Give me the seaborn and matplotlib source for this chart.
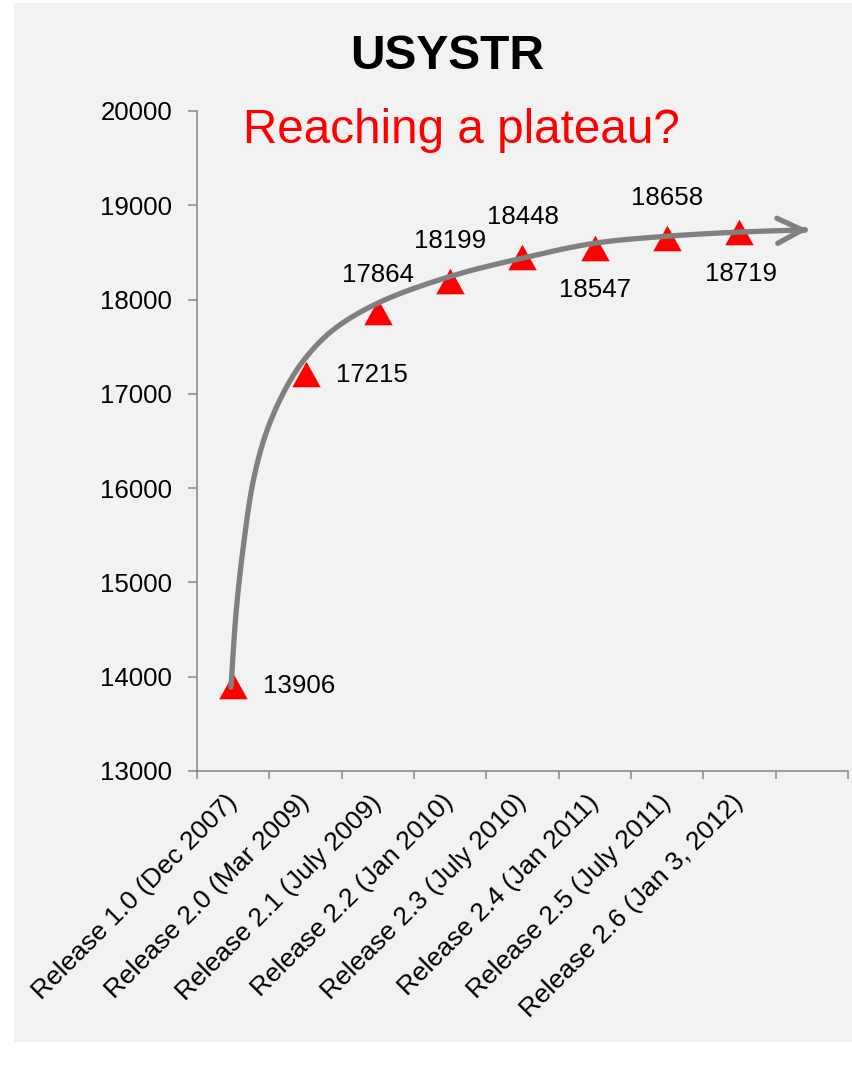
import numpy as np
import matplotlib
matplotlib.use("Agg")
import matplotlib.pyplot as plt
from matplotlib.patches import Rectangle, FancyArrowPatch
from matplotlib.path import Path
import seaborn as sns
import pandas as pd

# ---- data -------------------------------------------------------------
releases = [
    "Release 1.0 (Dec 2007)",
    "Release 2.0 (Mar 2009)",
    "Release 2.1 (July 2009)",
    "Release 2.2 (Jan 2010)",
    "Release 2.3 (July 2010)",
    "Release 2.4 (Jan 2011)",
    "Release 2.5 (July 2011)",
    "Release 2.6 (Jan 3, 2012)",
]
counts = [13906, 17215, 17864, 18199, 18448, 18547, 18658, 18719]
y_ticks = [13000, 14000, 15000, 16000, 17000, 18000, 19000, 20000]

# hand-drawn trend arrow (annotation), anchor points in data units
arrow_x = [-0.03, 0.04, 0.14, 0.28, 0.47, 0.74, 1.0, 1.38, 2.0, 3.0, 4.0, 5.0, 6.0, 7.0, 7.95]
arrow_y = [13890, 14680, 15379, 16086, 16617, 17076, 17380, 17677, 17963,
           18245, 18440, 18598, 18672, 18716, 18740]

# label placement (offsets in points) and alignment
label_offsets = [(21.6, 0), (21.6, -1), (0, 26.6), (0, 28.4), (0, 28.8),
                 (0, -29.9), (0, 28.4), (1.4, -30.2)]
label_ha = ["left", "left", "center", "center", "center", "center", "center", "center"]

# ---- style ------------------------------------------------------------
sns.set_theme(style="ticks")
plt.rcParams["font.family"] = ["Liberation Sans", "DejaVu Sans"]

W, H = 852, 1071
fig = plt.figure(figsize=(W / 100, H / 100), dpi=100, facecolor="white")

# light grey chart area
fig.patches.append(Rectangle((14 / W, 29 / H), 1 - 14 / W, (1042 - 3) / H,
                             transform=fig.transFigure, facecolor="#f2f2f2",
                             edgecolor="none", zorder=-5))

ax = fig.add_axes([197 / W, 1 - 771 / H, (848 - 197) / W, (771 - 111) / H])
ax.set_facecolor("none")

df = pd.DataFrame({"pos": np.arange(len(releases)), "count": counts})

tri = Path([(-1.0, -0.9), (1.0, -0.9), (0.0, 0.9), (-1.0, -0.9)],
           [Path.MOVETO, Path.LINETO, Path.LINETO, Path.CLOSEPOLY])
sns.scatterplot(data=df, x="pos", y="count", marker=tri, s=420, color="#ff0000",
                linewidth=0, ax=ax, zorder=3)

# value labels
for i, v in enumerate(counts):
    ax.annotate(f"{v}", xy=(i, v), xytext=label_offsets[i], textcoords="offset points",
                ha=label_ha[i], va="center", fontsize=18.6, color="black", zorder=5)

# axes limits / ticks
n_slots = len(releases) + 1
ax.set_xlim(-0.5, n_slots - 0.5)
ax.set_ylim(y_ticks[0], y_ticks[-1])
ax.set_yticks(y_ticks)
ax.set_yticklabels([str(t) for t in y_ticks], fontsize=18.6, color="black")
ax.set_xticks(np.arange(-0.5, n_slots, 1.0))
ax.set_xticklabels([])
ax.set_xticks(np.arange(len(releases)), minor=True)
ax.set_xticklabels(releases, minor=True, fontsize=19, color="black")
for lab in ax.get_xticklabels(minor=True):
    lab.set_rotation(45)
    lab.set_ha("right")
    lab.set_va("center")
    lab.set_rotation_mode("anchor")
ax.set_xlabel("")
ax.set_ylabel("")

spine_c = "#868686"
for s in ["top", "right"]:
    ax.spines[s].set_visible(False)
for s in ["left", "bottom"]:
    ax.spines[s].set_color(spine_c)
    ax.spines[s].set_linewidth(1.1)
ax.tick_params(axis="y", which="major", length=6.5, width=1.1, color=spine_c, pad=11.5)
ax.tick_params(axis="x", which="major", length=6.0, width=1.1, color=spine_c)
ax.tick_params(axis="x", which="minor", length=0, pad=20)

# ---- smooth trend arrow (centripetal Catmull-Rom in screen-like units) --
fig.canvas.draw()
sx = ax.bbox.width / (ax.get_xlim()[1] - ax.get_xlim()[0])
sy = ax.bbox.height / (ax.get_ylim()[1] - ax.get_ylim()[0])
P = np.column_stack([np.array(arrow_x) * sx, np.array(arrow_y) * sy])
P = np.vstack([2 * P[0] - P[1], P, 2 * P[-1] - P[-2]])
pts = []
for k in range(1, len(P) - 2):
    p0, p1, p2, p3 = P[k - 1], P[k], P[k + 1], P[k + 2]
    t0 = 0.0
    t1 = t0 + np.linalg.norm(p1 - p0) ** 0.5
    t2 = t1 + np.linalg.norm(p2 - p1) ** 0.5
    t3 = t2 + np.linalg.norm(p3 - p2) ** 0.5
    for t in np.linspace(t1, t2, 25, endpoint=(k == len(P) - 3)):
        a1 = (t1 - t) / (t1 - t0) * p0 + (t - t0) / (t1 - t0) * p1
        a2 = (t2 - t) / (t2 - t1) * p1 + (t - t1) / (t2 - t1) * p2
        a3 = (t3 - t) / (t3 - t2) * p2 + (t - t2) / (t3 - t2) * p3
        b1 = (t2 - t) / (t2 - t0) * a1 + (t - t0) / (t2 - t0) * a2
        b2 = (t3 - t) / (t3 - t1) * a2 + (t - t1) / (t3 - t1) * a3
        pts.append((t2 - t) / (t2 - t1) * b1 + (t - t1) / (t2 - t1) * b2)
pts = np.array(pts)
curve = np.column_stack([pts[:, 0] / sx, pts[:, 1] / sy])
codes = [Path.MOVETO] + [Path.LINETO] * (len(curve) - 1)
arrow = FancyArrowPatch(path=Path(curve, codes), transform=ax.transData,
                        arrowstyle="->,head_length=0.9,head_width=0.45",
                        mutation_scale=20, color="#808080", linewidth=3.8,
                        capstyle="round", joinstyle="round", zorder=4)
ax.add_patch(arrow)

# ---- titles -----------------------------------------------------------
fig.text(447 / W, 1 - 69 / H, "USYSTR", ha="center", va="baseline",
         fontsize=34.5, fontweight="bold", color="black")
fig.text(461 / W, 1 - 143 / H, "Reaching a plateau?", ha="center", va="baseline",
         fontsize=34.3, color="#ff0000")

fig.savefig("out.png", dpi=100, facecolor="white")
